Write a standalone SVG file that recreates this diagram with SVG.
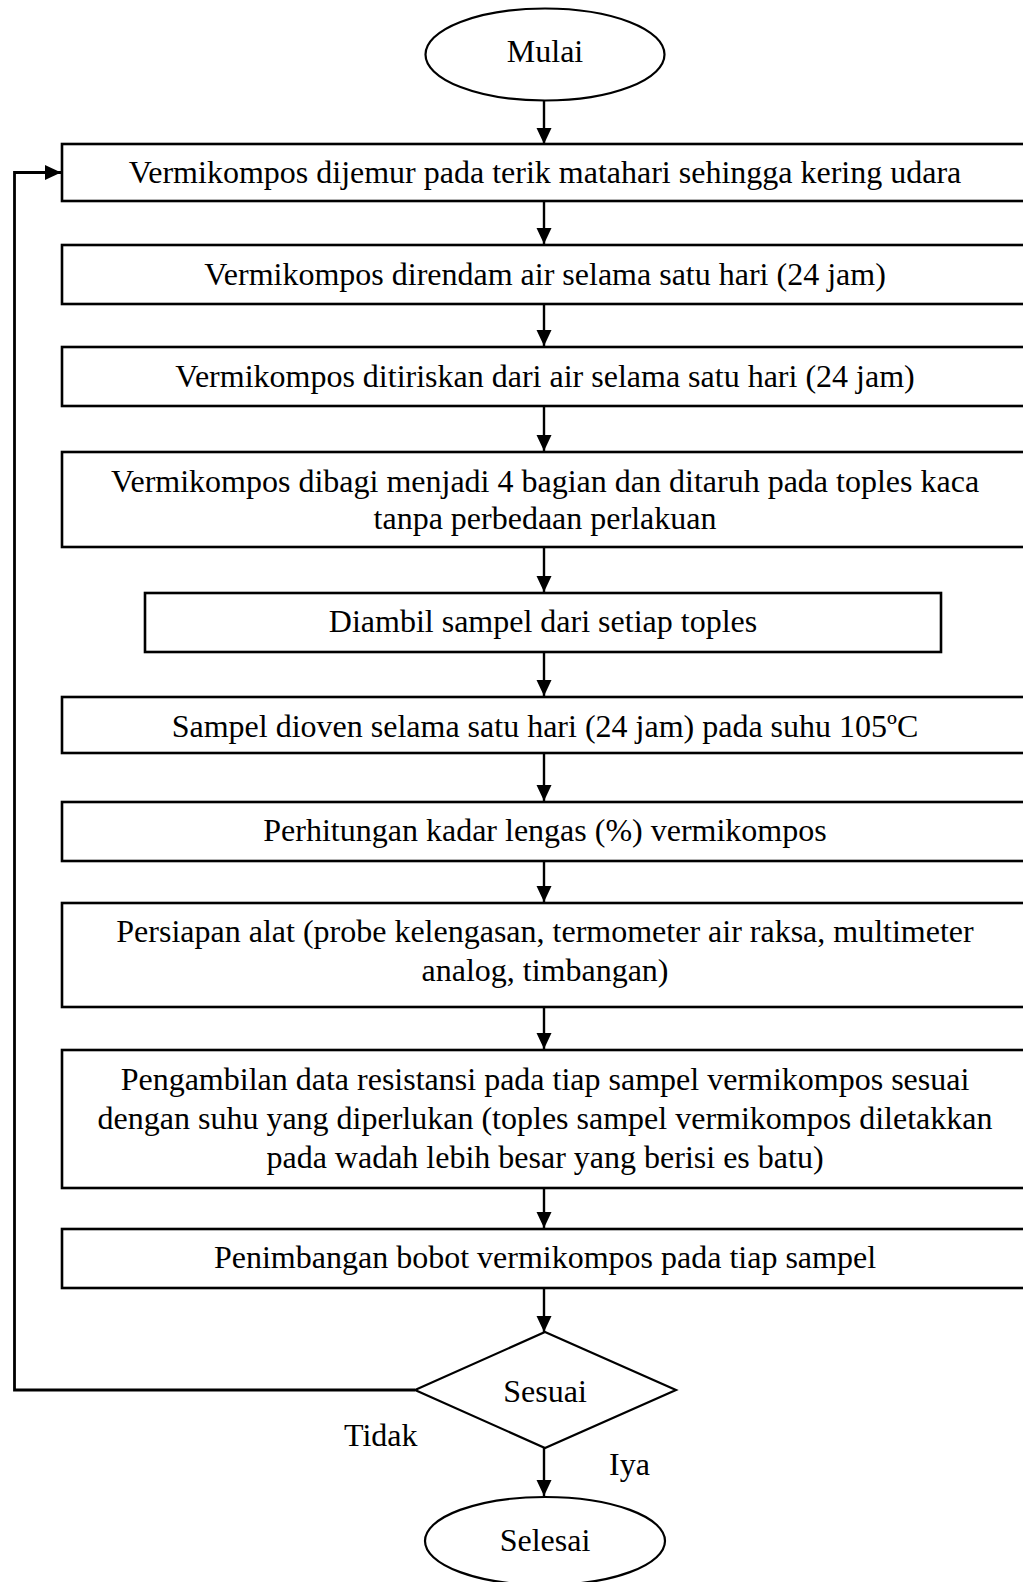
<svg xmlns="http://www.w3.org/2000/svg" width="1023" height="1582" viewBox="0 0 1023 1582">
  <style>
    .box { fill: #fff; stroke: #000; stroke-width: 2.6; }
    .term { fill: #fff; stroke: #000; stroke-width: 2.2; }
    .lbl { font-family: "Liberation Serif", "Times New Roman", serif; font-size: 32px; fill: #000; text-anchor: middle; }
    .side { font-family: "Liberation Serif", "Times New Roman", serif; font-size: 32px; fill: #000; }
    .wire { fill: none; stroke: #000; stroke-width: 2.4; }
  </style>
  <defs>
    <marker id="arrow" markerUnits="userSpaceOnUse" markerWidth="16" markerHeight="16" refX="16" refY="7.5" orient="auto">
      <path d="M0,0 L16,7.5 L0,15 z" fill="#000"/>
    </marker>
  </defs>

  <rect width="1023" height="1582" fill="#fff"/>

  <g id="connectors">
    <line class="wire" x1="544" y1="101" x2="544" y2="144" marker-end="url(#arrow)"/>
    <line class="wire" x1="544" y1="201" x2="544" y2="244" marker-end="url(#arrow)"/>
    <line class="wire" x1="544" y1="304" x2="544" y2="346" marker-end="url(#arrow)"/>
    <line class="wire" x1="544" y1="406" x2="544" y2="451" marker-end="url(#arrow)"/>
    <line class="wire" x1="544" y1="547" x2="544" y2="592" marker-end="url(#arrow)"/>
    <line class="wire" x1="544" y1="652" x2="544" y2="696" marker-end="url(#arrow)"/>
    <line class="wire" x1="544" y1="753" x2="544" y2="801" marker-end="url(#arrow)"/>
    <line class="wire" x1="544" y1="861" x2="544" y2="902" marker-end="url(#arrow)"/>
    <line class="wire" x1="544" y1="1007" x2="544" y2="1049" marker-end="url(#arrow)"/>
    <line class="wire" x1="544" y1="1188" x2="544" y2="1228" marker-end="url(#arrow)"/>
    <line class="wire" x1="544" y1="1288" x2="544" y2="1332" marker-end="url(#arrow)"/>
    <line class="wire" x1="544" y1="1448" x2="544" y2="1496" marker-end="url(#arrow)"/>
    <polyline class="wire" points="415,1390 14.5,1390 14.5,172.5 61,172.5" marker-end="url(#arrow)" style="stroke-width:2.8"/>
  </g>

  <g id="start">
    <ellipse class="term" cx="545" cy="54.5" rx="119.5" ry="46"/>
    <text class="lbl" x="545" y="62">Mulai</text>
  </g>

  <g id="step1">
    <rect class="box" x="62" y="144" width="975" height="57"/>
    <text class="lbl" x="545" y="183">Vermikompos dijemur pada terik matahari sehingga kering udara</text>
  </g>

  <g id="step2">
    <rect class="box" x="62" y="245" width="975" height="59"/>
    <text class="lbl" x="545" y="285">Vermikompos direndam air selama satu hari (24 jam)</text>
  </g>

  <g id="step3">
    <rect class="box" x="62" y="347" width="975" height="59"/>
    <text class="lbl" x="545" y="387">Vermikompos ditiriskan dari air selama satu hari (24 jam)</text>
  </g>

  <g id="step4">
    <rect class="box" x="62" y="452" width="975" height="95"/>
    <text class="lbl" x="545" y="492">Vermikompos dibagi menjadi 4 bagian dan ditaruh pada toples kaca</text>
    <text class="lbl" x="545" y="529">tanpa perbedaan perlakuan</text>
  </g>

  <g id="step5">
    <rect class="box" x="145" y="593" width="796" height="59"/>
    <text class="lbl" x="543" y="632">Diambil sampel dari setiap toples</text>
  </g>

  <g id="step6">
    <rect class="box" x="62" y="697" width="975" height="56"/>
    <text class="lbl" x="545" y="737">Sampel dioven selama satu hari (24 jam) pada suhu 105ºC</text>
  </g>

  <g id="step7">
    <rect class="box" x="62" y="802" width="975" height="59"/>
    <text class="lbl" x="545" y="841">Perhitungan kadar lengas (%) vermikompos</text>
  </g>

  <g id="step8">
    <rect class="box" x="62" y="903" width="975" height="104"/>
    <text class="lbl" x="545" y="942">Persiapan alat (probe kelengasan, termometer air raksa, multimeter</text>
    <text class="lbl" x="545" y="981">analog, timbangan)</text>
  </g>

  <g id="step9">
    <rect class="box" x="62" y="1050" width="975" height="138"/>
    <text class="lbl" x="545" y="1090">Pengambilan data resistansi pada tiap sampel vermikompos sesuai</text>
    <text class="lbl" x="545" y="1129">dengan suhu yang diperlukan (toples sampel vermikompos diletakkan</text>
    <text class="lbl" x="545" y="1168">pada wadah lebih besar yang berisi es batu)</text>
  </g>

  <g id="step10">
    <rect class="box" x="62" y="1229" width="975" height="59"/>
    <text class="lbl" x="545" y="1268">Penimbangan bobot vermikompos pada tiap sampel</text>
  </g>

  <g id="decision">
    <polygon class="term" points="545,1332 676,1390 545,1448 415,1390"/>
    <text class="lbl" x="545" y="1402">Sesuai</text>
  </g>

  <g id="branch-labels">
    <text class="side" x="344" y="1446">Tidak</text>
    <text class="side" x="609" y="1475">Iya</text>
  </g>

  <g id="end">
    <ellipse class="term" cx="545" cy="1541" rx="120" ry="44"/>
    <text class="lbl" x="545" y="1551">Selesai</text>
  </g>
</svg>
